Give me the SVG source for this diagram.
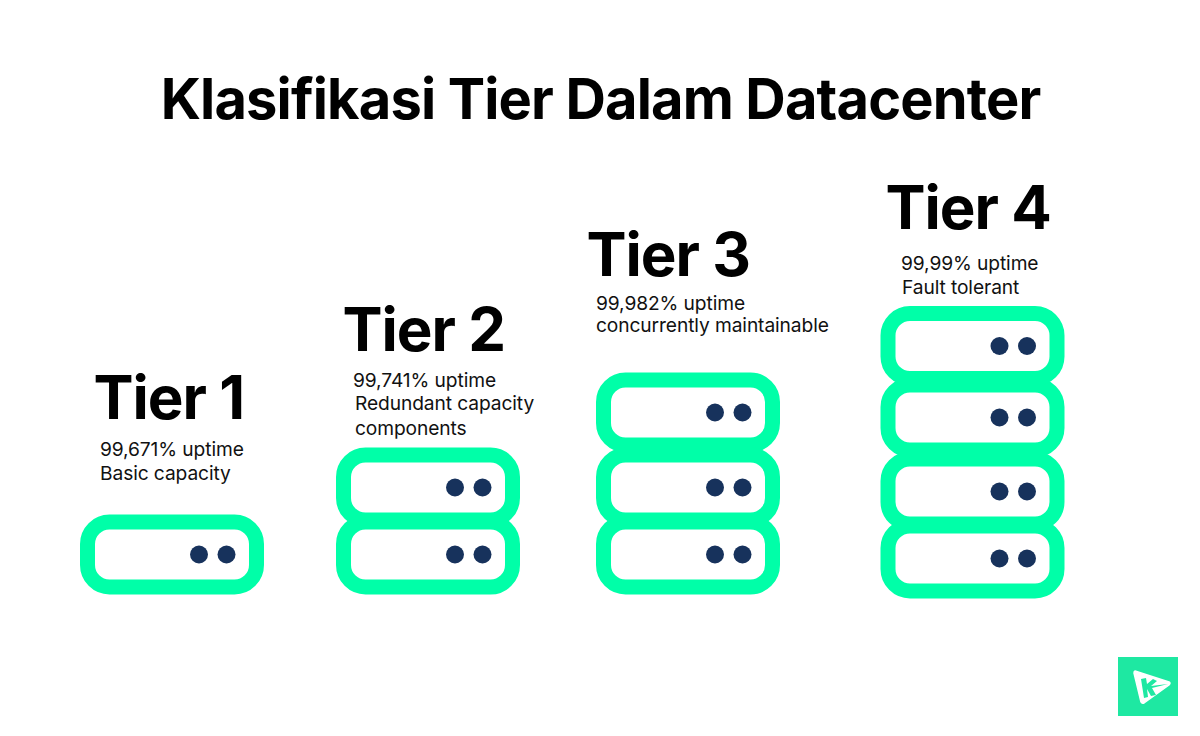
<svg xmlns="http://www.w3.org/2000/svg" width="1200" height="736" viewBox="0 0 1200 736">
<defs>
<style>
text{font-family:"Inter","Liberation Sans",sans-serif;fill:#000}
.title{font-size:56px;font-weight:700;letter-spacing:-.85px}
.tier{font-size:60px;font-weight:700;letter-spacing:-1px}
.sub{font-size:19.200px;letter-spacing:-.1px;fill:#111}
.box{fill:#fff;stroke:#00ffa8;stroke-width:15}
.dot{fill:#17325c}
</style>
<g id="unit"><rect class="box" x="-84.5" y="-32.500" width="169" height="65" rx="22"/><circle class="dot" cx="27" cy="0" r="9"/><circle class="dot" cx="54.500" cy="0" r="9"/></g>
</defs>
<rect width="1200" height="736" fill="#fff"/>
<text id="title" class="title" x="600.500" y="119" text-anchor="middle">Klasifikasi Tier Dalam Datacenter</text>
<g id="tier1">
<text class="tier" x="93.500" y="419">Tier 1</text>
<text class="sub" x="100" y="455.500">99,671% uptime</text>
<text class="sub" x="100" y="479.500">Basic capacity</text>
<use href="#unit" x="172" y="554.500"/>
</g>
<g id="tier2">
<text class="tier" x="342.500" y="351">Tier 2</text>
<text class="sub" x="353" y="386.500">99,741% uptime</text>
<text class="sub" x="355" y="409.500">Redundant capacity</text>
<text class="sub" x="355" y="434.500">components</text>
<use href="#unit" x="428" y="487.500"/>
<use href="#unit" x="428" y="554.500"/>
</g>
<g id="tier3">
<text class="tier" x="586.500" y="276">Tier 3</text>
<text class="sub" x="596" y="310">99,982% uptime</text>
<text class="sub" x="596" y="332">concurrently maintainable</text>
<use href="#unit" x="688" y="412.500"/>
<use href="#unit" x="688" y="487.500"/>
<use href="#unit" x="688" y="554.500"/>
</g>
<g id="tier4">
<text class="tier" x="885.500" y="229">Tier 4</text>
<text class="sub" x="901" y="270">99,99% uptime</text>
<text class="sub" x="902" y="294">Fault tolerant</text>
<use href="#unit" x="972.500" y="558.500"/>
<use href="#unit" x="972.500" y="491.500"/>
<use href="#unit" x="972.500" y="417.500"/>
<use href="#unit" x="972.500" y="346"/>
</g>
<g id="logo">
<rect x="1118" y="657" width="60" height="59" fill="#1ee8a2"/>
<path d="M1135 671L1169 682Q1171 683 1169 685L1144 703Q1142 704 1141 702L1134 673Q1134 671 1135 671Z" fill="#fff" stroke="#fff" stroke-width="1.500" stroke-linejoin="round"/>
<path d="M1141 679L1146 678L1147 684L1153 679L1157 681L1151 686L1168 684L1152 688L1156 695L1151 696L1147 689L1148 697L1144 698Z" fill="#1ee8a2"/>
</g>
</svg>
